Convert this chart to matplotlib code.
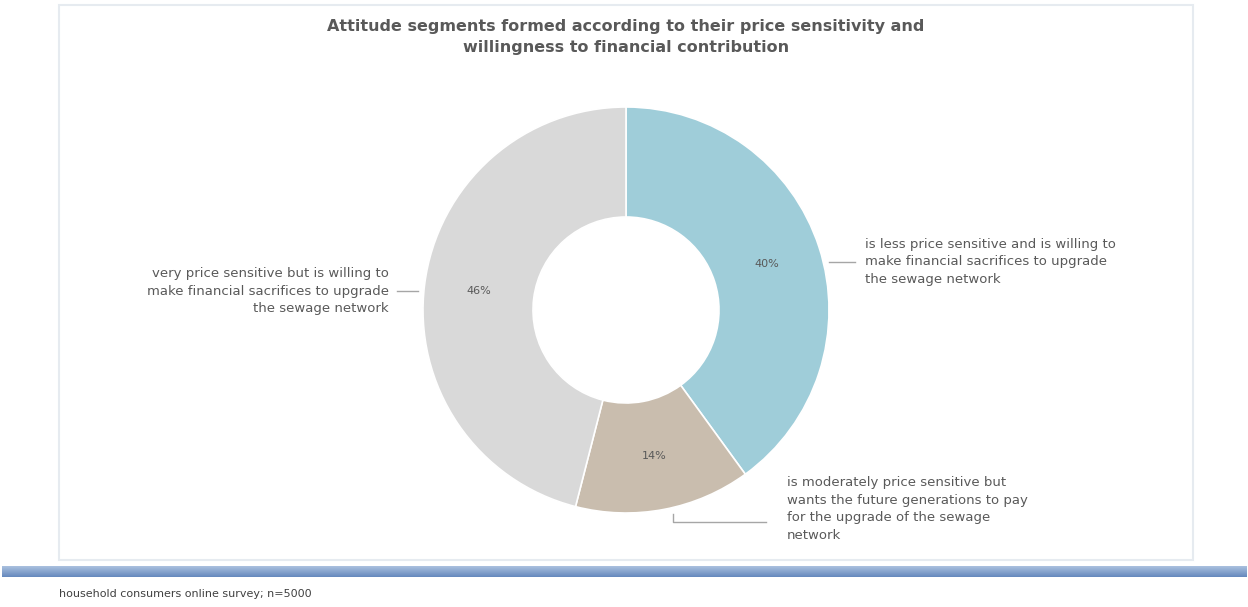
import numpy as np
import matplotlib.pyplot as plt
from matplotlib.patches import Rectangle
from matplotlib.colors import LinearSegmentedColormap

title = 'Attitude segments formed according to their price sensitivity and\nwillingness to financial contribution'
shares = [40, 14, 46]
colors = ['#9FCDD9', '#C9BDAE', '#D9D9D9']
labels = ['is less price sensitive and is willing to\nmake financial sacrifices to upgrade\nthe sewage network',
          'is moderately price sensitive but\nwants the future generations to pay\nfor the upgrade of the sewage\nnetwork',
          'very price sensitive but is willing to\nmake financial sacrifices to upgrade\nthe sewage network']
note = 'household consumers online survey; n=5000'

W, H = 1248, 607
fig = plt.figure(figsize=(W / 100, H / 100), dpi=100)
ax = fig.add_axes([0, 0, 1, 1])

txt = '#595959'

# chart frame
ax.add_patch(Rectangle((59, 5), 1134, 555, fill=False, ec='#E6EBF0', lw=1.5))

# donut (y axis inverted later -> counterclock=True shows clockwise)
cx, cy, r = 626, 310, 203
wedges, _, pcts = ax.pie(shares, colors=colors, startangle=-90, counterclock=True,
                         center=(cx, cy), radius=r, autopct='%d%%', pctdistance=0.73,
                         wedgeprops=dict(width=110, edgecolor='white', linewidth=1.2),
                         textprops=dict(color=txt, fontsize=8), frame=True)

# labels with leader lines
fs = 9.5
ls = 1.45
ax.plot([829, 855], [262, 262], color='#A6A6A6', lw=1)
ax.text(865, 262, labels[0], ha='left', va='center', fontsize=fs, color=txt, linespacing=ls)

ax.plot([673, 673, 766], [514, 522, 522], color='#A6A6A6', lw=1)
ax.text(787, 509, labels[1], ha='left', va='center', fontsize=fs, color=txt, linespacing=ls)

ax.plot([397, 418], [291, 291], color='#A6A6A6', lw=1)
ax.text(389, 291, labels[2], ha='right', va='center', fontsize=fs, color=txt, linespacing=ls,
        multialignment='right')

ax.text(626, 37, title, ha='center', va='center', fontsize=11.5, fontweight='bold', color=txt,
        linespacing=1.55)

# blue band
grad = np.linspace(0, 1, 20).reshape(-1, 1)
ax.imshow(grad, extent=(2, 1247, 577, 566),
          cmap=LinearSegmentedColormap.from_list('band', ['#A9C0DE', '#6689BE']),
          aspect='auto', zorder=3)

ax.text(59, 594, note, ha='left', va='center', fontsize=8, color='#404040')

ax.set_xlim(0, W)
ax.set_ylim(H, 0)
ax.axis('off')

fig.savefig('out.png', dpi=100)
